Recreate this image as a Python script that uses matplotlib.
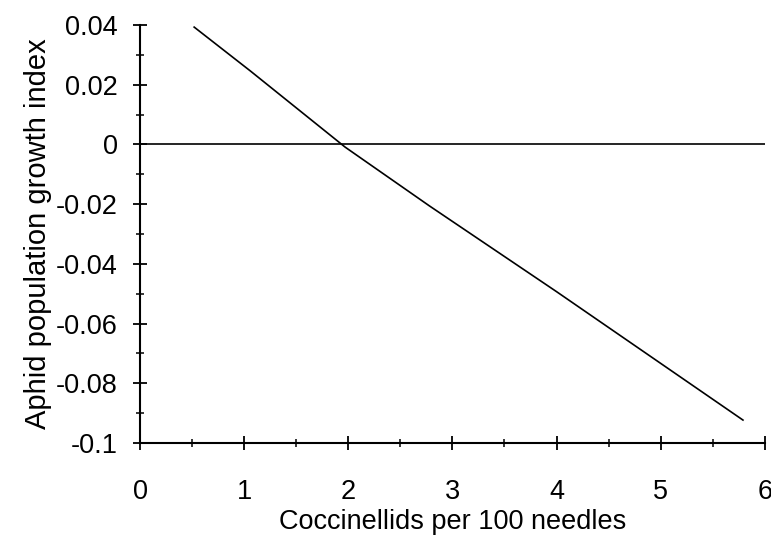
import numpy as np
import matplotlib.pyplot as plt
from matplotlib.ticker import MultipleLocator

# growth index vs. coccinellid density (curve read along its length)
dens = [0.52, 1.06, 1.97, 2.78, 4.00, 5.79]
growth = [0.0393, 0.0246, -0.0009, -0.0206, -0.0493, -0.0923]

# reference line at zero
zero_x = [0, 6]
zero_y = [0, 0]

plt.rcParams['font.family'] = ['Liberation Sans', 'DejaVu Sans']

fig = plt.figure(figsize=(7.71, 5.39), dpi=100)
ax = fig.add_axes([0.1816, 0.178, 0.8104, 0.7756])

ax.plot(zero_x, zero_y, color='black', lw=1.2)
ax.plot(dens, growth, color='black', lw=1.2)

ax.set_xlim(0, 6)
ax.set_ylim(-0.1, 0.04)
ax.set_xticks(range(0, 7))
ax.set_yticks([0.04, 0.02, 0, -0.02, -0.04, -0.06, -0.08, -0.1])
ax.set_yticklabels(['0.04', '0.02', '0', '-0.02', '-0.04', '-0.06', '-0.08', '-0.1'])
ax.xaxis.set_minor_locator(MultipleLocator(0.5))
ax.yaxis.set_minor_locator(MultipleLocator(0.01))

for s in ['top', 'right']:
    ax.spines[s].set_visible(False)
for s in ['left', 'bottom']:
    ax.spines[s].set_linewidth(1.5)

ax.tick_params(which='major', direction='inout', length=10, width=1.3, labelsize=19.5)
ax.tick_params(which='minor', direction='inout', length=6, width=1.1)
ax.tick_params(axis='y', which='major', pad=11)
ax.tick_params(axis='x', which='major', pad=21)

ax.set_xlabel('Coccinellids per 100 needles', fontsize=19.5, labelpad=3)
ax.set_ylabel('Aphid population growth index', fontsize=21, labelpad=3)

fig.savefig('out.png', dpi=100)
